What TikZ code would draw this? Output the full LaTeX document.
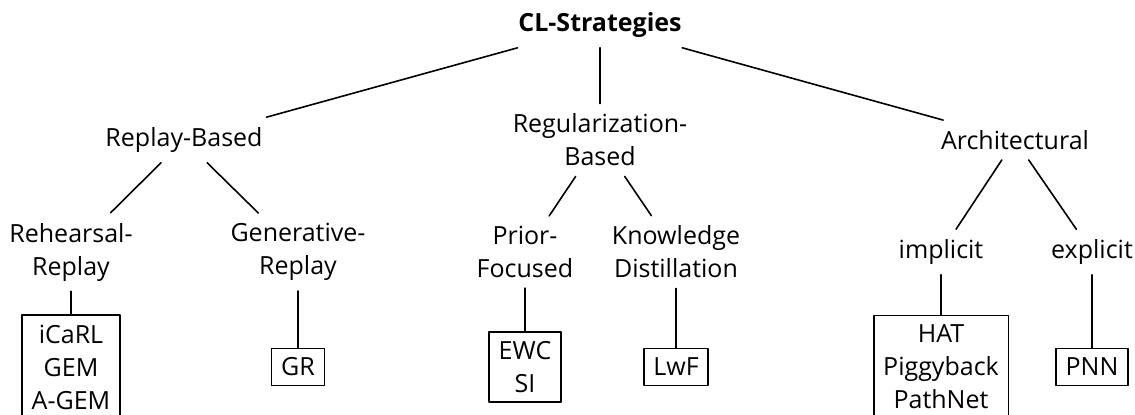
\documentclass[tikz,border=0pt]{standalone}
\usepackage{fontspec}
\setmainfont{Open Sans}
\usepackage{tikz}

\begin{document}
\begin{tikzpicture}[line cap=round,line join=round,x=0.5pt,y=0.5pt,line width=0.8pt,
  every node/.style={font=\fontsize{12.5}{16.5}\selectfont,align=center,inner sep=4.75pt},
  method/.style={draw}]
\useasboundingbox (0,0) rectangle (1135,-414);
% root and strategies
\node (cl) at (600,-25) {\textbf{CL-Strategies}};
\node (replay) at (184,-140) {Replay-Based};
\node (reg) at (600,-140) {Regularization-\\Based};
\node (arch) at (1015,-140) {Architectural};
% sub-strategies
\node (rehearsal) at (71,-252) {Rehearsal-\\Replay};
\node (generative) at (298,-252) {Generative-\\Replay};
\node (prior) at (525,-252) {Prior-\\Focused};
\node (distill) at (676,-252) {Knowledge\\Distillation};
\node (implicit) at (941,-252) {implicit};
\node (explicit) at (1092,-252) {explicit};
% methods
\node[method] (m1) at (71,-367) {iCaRL\\GEM\\A-GEM};
\node[method] (m2) at (298,-367) {GR};
\node[method] (m3) at (525,-367) {EWC\\SI};
\node[method] (m4) at (676,-367) {LwF};
\node[method] (m5) at (941,-367) {HAT\\Piggyback\\PathNet};
\node[method] (m6) at (1092,-367) {PNN};
\draw (cl)--(replay);
\draw (cl)--(reg);
\draw (cl)--(arch);
\draw (replay)--(rehearsal);
\draw (replay)--(generative);
\draw (reg)--(prior);
\draw (reg)--(distill);
\draw (arch)--(implicit);
\draw (arch)--(explicit);
\draw (rehearsal)--(m1);
\draw (generative)--(m2);
\draw (prior)--(m3);
\draw (distill)--(m4);
\draw (implicit)--(m5);
\draw (explicit)--(m6);
\end{tikzpicture}
\end{document}
